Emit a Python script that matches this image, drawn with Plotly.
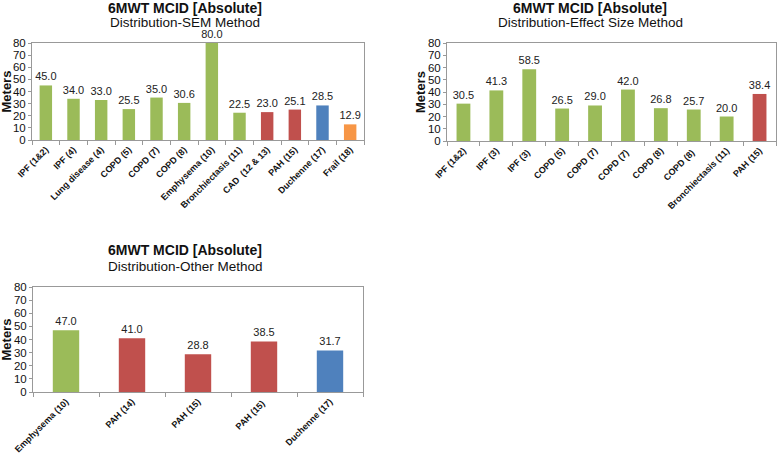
import plotly.graph_objects as go

GREEN = "#9BBB59"
RED = "#C0504D"
BLUE = "#4F81BD"
ORANGE = "#F79646"

sem_categories = ["IPF (1&2)", "IPF (4)", "Lung disease (4)", "COPD (5)", "COPD (7)", "COPD (8)",
                  "Emphysema (10)", "Bronchiectasis (11)", "CAD  (12 & 13)", "PAH (15)",
                  "Duchenne (17)", "Frail (18)"]
sem_values = [45.0, 34.0, 33.0, 25.5, 35.0, 30.6, 80.0, 22.5, 23.0, 25.1, 28.5, 12.9]
sem_colors = [GREEN] * 8 + [RED, RED, BLUE, ORANGE]

es_categories = ["IPF (1&2)", "IPF (3)", "IPF (3) ", "COPD (5)", "COPD (7)", "COPD (7) ",
                 "COPD (8)", "COPD (8) ", "Bronchiectasis (11)", "PAH (15)"]
es_values = [30.5, 41.3, 58.5, 26.5, 29.0, 42.0, 26.8, 25.7, 20.0, 38.4]
es_colors = [GREEN] * 9 + [RED]

other_categories = ["Emphysema (10)", "PAH (14)", "PAH (15)", "PAH (15) ", "Duchenne (17)"]
other_values = [47.0, 41.0, 28.8, 38.5, 31.7]
other_colors = [GREEN, RED, RED, RED, BLUE]

y_ticks = [0, 10, 20, 30, 40, 50, 60, 70, 80]

W, H = 777, 454
FONT = "Liberation Sans, Arial, sans-serif"

def px_x(x):
    return x / W

def px_y(y):
    return 1 - y / H

fig = go.Figure()

panels = [
    ("", sem_categories, sem_values, sem_colors, (32, 364), (43, 140), 0.45, 6),
    ("2", es_categories, es_values, es_colors, (447, 776), (43, 141), 0.42, 420),
    ("3", other_categories, other_values, other_colors, (33, 363), (287, 392), 0.4, 6),
]

layout = {}
annotations = []
for suffix, cats, vals, cols, xr, yr, bw, title_x in panels:
    fig.add_trace(go.Bar(
        x=cats, y=vals,
        xaxis="x" + suffix, yaxis="y" + suffix,
        marker=dict(color=cols, line=dict(width=0)),
        width=bw,
        text=[f"{v:.1f}" for v in vals],
        textposition="outside",
        constraintext="none",
        textfont=dict(family=FONT, size=11, color="#222222"),
        cliponaxis=False,
        showlegend=False,
        hoverinfo="x+y",
    ))
    layout["xaxis" + suffix] = dict(
        domain=[px_x(xr[0]), px_x(xr[1])],
        anchor="y" + suffix,
        type="category",
        tickangle=-45,
        tickfont=dict(family=FONT, size=9, color="#111111", weight="bold"),
        ticks="outside", tickson="boundaries", ticklen=4, tickcolor="#999999",
        showline=True, linecolor="#999999", linewidth=1, mirror=True,
        showgrid=False, zeroline=False, fixedrange=True, automargin=False,
    )
    layout["yaxis" + suffix] = dict(
        domain=[px_y(yr[1]), px_y(yr[0])],
        anchor="x" + suffix,
        range=[0, 80],
        tickvals=y_ticks,
        tickfont=dict(family=FONT, size=11.5, color="#111111"),
        ticks="outside", ticklen=3, tickcolor="#999999",
        showline=True, linecolor="#999999", linewidth=1, mirror=True,
        showgrid=False, zeroline=False, fixedrange=True, automargin=False,
    )
    annotations.append(dict(text="<b>Meters</b>", textangle=-90,
                            x=px_x(title_x), y=px_y((yr[0] + yr[1]) / 2), xref="paper", yref="paper",
                            xanchor="center", yanchor="middle", showarrow=False,
                            font=dict(family=FONT, size=13, color="#111111")))

title_pos = [(185, 8, 22), (590, 8, 22), (185, 250, 266)]
subs = ["Distribution-SEM Method", "Distribution-Effect Size Method", "Distribution-Other Method"]
for (cx, ty, sy), sub in zip(title_pos, subs):
    annotations.append(dict(text="<b>6MWT MCID [Absolute]</b>", x=px_x(cx), y=px_y(ty), xref="paper", yref="paper",
                            xanchor="center", yanchor="middle", showarrow=False,
                            font=dict(family=FONT, size=14, color="#111111")))
    annotations.append(dict(text=sub, x=px_x(cx), y=px_y(sy), xref="paper", yref="paper",
                            xanchor="center", yanchor="middle", showarrow=False,
                            font=dict(family=FONT, size=13.5, color="#111111")))

fig.update_layout(
    width=W, height=H,
    margin=dict(l=0, r=0, t=0, b=0, autoexpand=False),
    paper_bgcolor="white", plot_bgcolor="white",
    annotations=annotations,
    **layout,
)

fig.write_html("out.html", config={"displayModeBar": False},
               post_script="document.body.style.margin='0';document.body.style.overflow='hidden';")
